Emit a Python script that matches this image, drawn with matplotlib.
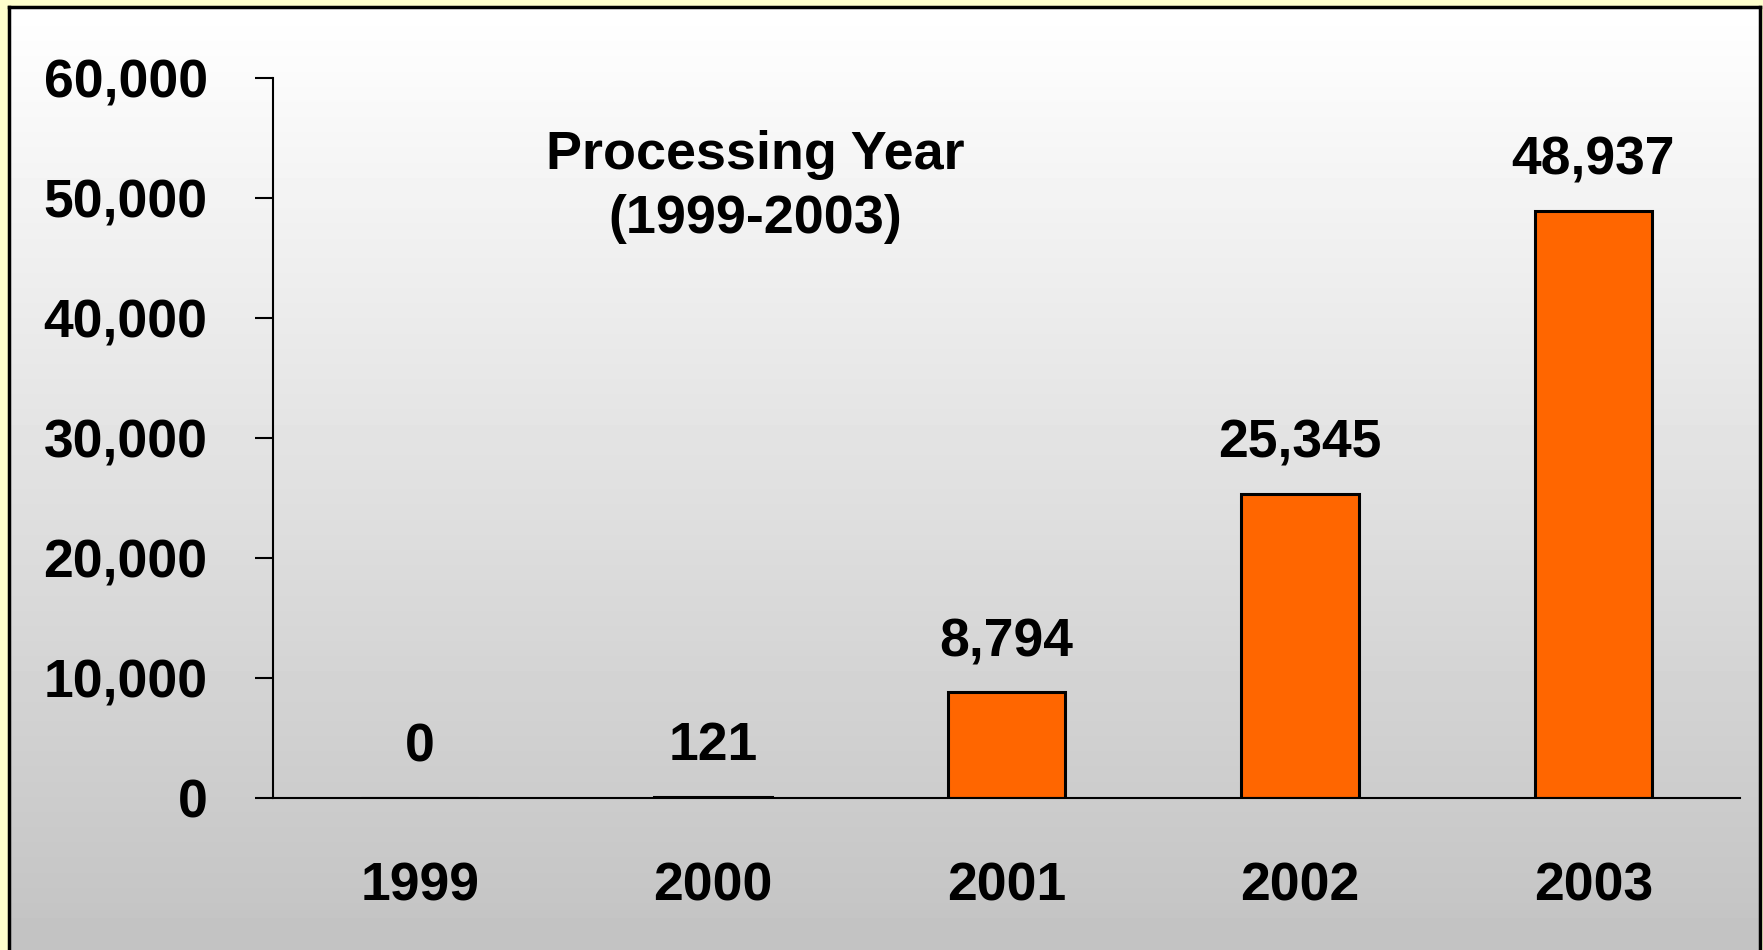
import matplotlib
matplotlib.use("Agg")
import matplotlib.pyplot as plt
import numpy as np

# data
years = ["1999", "2000", "2001", "2002", "2003"]
counts = [0, 121, 8794, 25345, 48937]
y_ticks = [0, 10000, 20000, 30000, 40000, 50000, 60000]
title_text = "Processing Year\n(1999-2003)"

plt.rcParams["font.family"] = ["Liberation Sans", "DejaVu Sans"]
plt.rcParams["font.weight"] = "bold"
FS = 38.5

fig = plt.figure(figsize=(17.63, 9.5), dpi=100, facecolor="#FFFFCC")

# background panel: grey gradient in a black frame
bg = fig.add_axes([9 / 1763, -0.03, (1760 - 9) / 1763, 1.03 - 7 / 950])
grad = np.linspace(1.0, 0.755, 256).reshape(-1, 1)
bg.imshow(grad, cmap="gray", vmin=0, vmax=1, aspect="auto",
          extent=[0, 1, 0, 1], origin="upper")
bg.set_xticks([])
bg.set_yticks([])
for s in bg.spines.values():
    s.set_linewidth(2.5)
    s.set_color("black")
bg.set_zorder(0)

# main chart
ax = fig.add_axes([273 / 1763, 1 - 798 / 950, (1740 - 273) / 1763, (798 - 78) / 950])
ax.set_zorder(1)
ax.patch.set_alpha(0)

x = np.arange(len(years))
ax.bar(x, counts, width=0.4, color="#FF6600", edgecolor="black", linewidth=2.2)

for xi, v in zip(x, counts):
    ax.annotate(f"{v:,}", (xi, v), xytext=(0, 26), textcoords="offset points",
                ha="center", va="baseline", fontsize=FS, fontweight="bold")

ax.set_xlim(-0.5, len(years) - 0.5)
ax.set_ylim(0, 60000)
ax.set_yticks(y_ticks)
ax.set_yticklabels([f"{t:,}" for t in y_ticks])
ax.set_xticks(x)
ax.set_xticklabels(years)

ax.tick_params(axis="y", direction="out", length=13, width=1.5, pad=34,
               labelsize=FS)
ax.tick_params(axis="x", length=0, pad=46, labelsize=FS)

for side in ["top", "right"]:
    ax.spines[side].set_visible(False)
for side in ["left", "bottom"]:
    ax.spines[side].set_linewidth(1.5)

ax.text(0.3286, 0.849, title_text, transform=ax.transAxes, ha="center",
        va="center", fontsize=38.8, fontweight="bold", linespacing=1.37)

fig.savefig("out.png", dpi=100, facecolor=fig.get_facecolor())
